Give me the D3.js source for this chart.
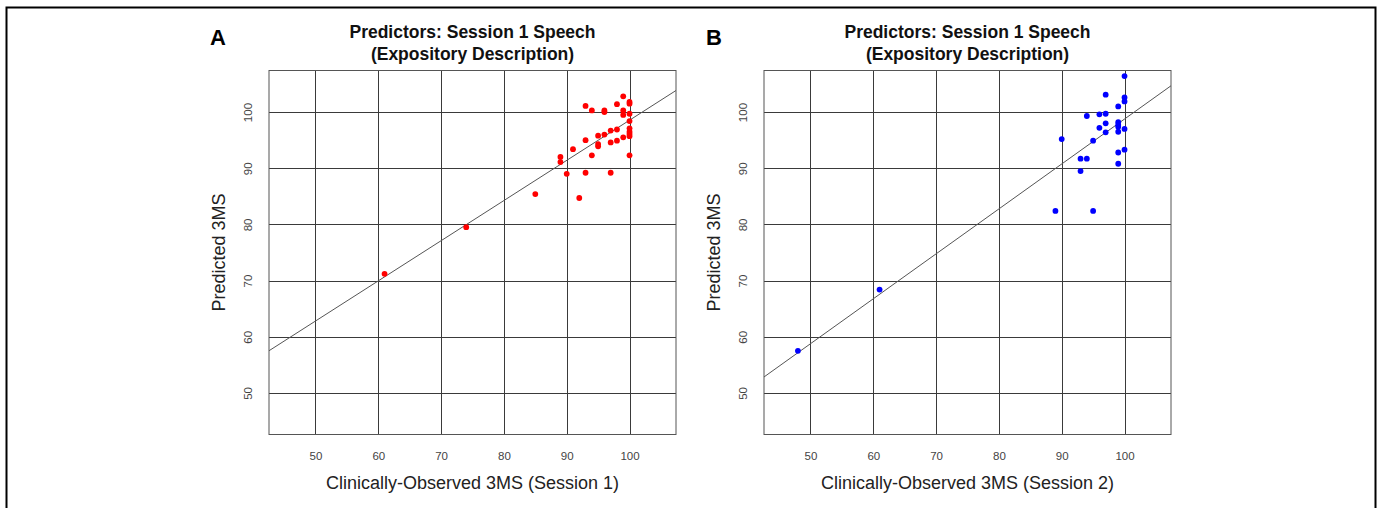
<!DOCTYPE html>
<html>
<head>
<meta charset="utf-8">
<script src="https://cdn.jsdelivr.net/npm/d3@7"></script>
<style>
  html, body { margin: 0; padding: 0; background: #fff; }
  svg { display: block; font-family: Arial, "Liberation Sans", sans-serif; }
</style>
</head>
<body>
<svg id="chart" width="1380" height="508"></svg>
<script>
// ---- Data ----
const titleLines = ["Predictors: Session 1 Speech", "(Expository Description)"];
const yAxisTitle = "Predicted 3MS";
const xTicks = [50, 60, 70, 80, 90, 100];
const yTicks = [50, 60, 70, 80, 90, 100];

// Panel A: Session 1
const aObserved = [99, 100, 100, 98, 93, 94, 96, 96, 99, 99, 100, 100, 100, 100, 100, 100,
                   98, 97, 96, 95, 95, 95, 93, 97, 98, 99, 91, 94, 89, 89, 100, 90, 93, 97,
                   85, 92, 61, 74];
const aPredicted = [102.8, 101.8, 101.5, 101.4, 101.1, 100.3, 100.3, 100.0, 100.3, 99.5, 99.7, 98.4,
                    97.1, 96.5, 96.1, 95.7, 96.9, 96.7, 96.0, 95.8, 94.3, 93.9, 95.0, 94.6, 94.9,
                    95.5, 93.4, 92.3, 92.0, 91.1, 92.3, 89.0, 89.2, 89.2, 85.4, 84.7, 71.2, 79.5];
const aFit = { intercept: 91.4, slope: 0.715, at: 90 };
const aLabel = "A";
const aXTitle = "Clinically-Observed 3MS (Session 1)";

// Panel B: Session 2
const bObserved = [100, 97, 100, 100, 99, 94, 96, 97, 96, 97, 99, 99, 99, 100, 97, 99,
                   90, 95, 93, 94, 99, 100, 93, 99, 89, 95, 48, 61];
const bPredicted = [106.4, 103.1, 102.6, 101.9, 101.0, 99.3, 99.6, 99.7, 97.2, 98.0, 98.2, 97.7,
                    97.4, 97.0, 96.4, 96.5, 95.2, 94.9, 91.7, 91.7, 92.8, 93.3, 89.5, 90.8,
                    82.4, 82.4, 57.5, 68.4];
const bFit = { intercept: 90.76, slope: 0.80, at: 90 };
const bLabel = "B";
const bXTitle = "Clinically-Observed 3MS (Session 2)";

const domain = [42.6, 107.4];

// ---- Drawing ----
const svg = d3.select("#chart");

// outer frame
svg.append("rect")
  .attr("x", 6.5).attr("y", 7.5)
  .attr("width", 1369).attr("height", 520)
  .attr("fill", "none").attr("stroke", "#000").attr("stroke-width", 2);

function panel(cfg) {
  const left = cfg.left, right = cfg.right, top = 70.5, bottom = 434.5;
  const x = d3.scaleLinear().domain(domain).range([left, right]);
  const y = d3.scaleLinear().domain(domain).range([bottom, top]);
  const g = svg.append("g");

  // gridlines
  g.selectAll(".vg").data(xTicks).join("line")
    .attr("x1", d => Math.round(x(d)) + 0.5).attr("x2", d => Math.round(x(d)) + 0.5)
    .attr("y1", top).attr("y2", bottom)
    .attr("stroke", "#3a3a3a").attr("stroke-width", 1);
  g.selectAll(".hg").data(yTicks).join("line")
    .attr("y1", d => Math.round(y(d)) + 0.5).attr("y2", d => Math.round(y(d)) + 0.5)
    .attr("x1", left).attr("x2", right)
    .attr("stroke", "#3a3a3a").attr("stroke-width", 1);

  // box
  g.append("rect")
    .attr("x", left).attr("y", top)
    .attr("width", right - left).attr("height", bottom - top)
    .attr("fill", "none").attr("stroke", "#555").attr("stroke-width", 1);

  // regression line (across the plotted range)
  const fy = v => cfg.fit.intercept + cfg.fit.slope * (v - cfg.fit.at);
  g.append("line")
    .attr("x1", x(domain[0])).attr("y1", y(fy(domain[0])))
    .attr("x2", x(domain[1])).attr("y2", y(fy(domain[1])))
    .attr("stroke", "#555").attr("stroke-width", 1);

  // points
  const pts = cfg.xs.map((v, i) => [v, cfg.ys[i]]);
  g.selectAll("circle").data(pts).join("circle")
    .attr("cx", d => x(d[0])).attr("cy", d => y(d[1]))
    .attr("r", 2.9).attr("fill", cfg.color);

  // x tick labels
  const xAxis = d3.axisBottom(x).tickValues(xTicks).tickSize(0).tickPadding(0);
  const xa = g.append("g").attr("transform", `translate(0,${bottom + 17})`).call(xAxis);
  xa.select(".domain").remove();
  xa.selectAll("text").attr("font-size", 11.5).attr("fill", "#444")
    .attr("font-family", "Arial, 'Liberation Sans', sans-serif").attr("dy", "0.71em");

  // y tick labels (rotated, parallel to axis)
  const yAxis = d3.axisLeft(y).tickValues(yTicks).tickSize(0).tickPadding(0);
  const ya = g.append("g").attr("transform", `translate(${left - 21},0)`).call(yAxis);
  ya.select(".domain").remove();
  ya.selectAll("text")
    .attr("font-size", 11.5).attr("fill", "#444")
    .attr("font-family", "Arial, 'Liberation Sans', sans-serif")
    .attr("x", 0).attr("dy", 0)
    .attr("text-anchor", "middle")
    .attr("transform", "rotate(-90)")
    .attr("dominant-baseline", "central");

  // axis titles
  g.append("text")
    .attr("x", (left + right) / 2).attr("y", 489)
    .attr("text-anchor", "middle").attr("font-size", 18).attr("fill", "#222")
    .text(cfg.xTitle);
  g.append("text")
    .attr("transform", `translate(${left - 44},${(top + bottom) / 2}) rotate(-90)`)
    .attr("text-anchor", "middle").attr("font-size", 18).attr("fill", "#222")
    .text(yAxisTitle);

  // title
  titleLines.forEach((t, i) => {
    g.append("text")
      .attr("x", (left + right) / 2).attr("y", 37.5 + i * 22.5)
      .attr("text-anchor", "middle").attr("font-size", 17.5).attr("font-weight", "bold")
      .attr("fill", "#111").text(t);
  });

  // panel label
  g.append("text")
    .attr("x", cfg.labelX).attr("y", 44.5)
    .attr("font-size", 22).attr("font-weight", "bold").attr("fill", "#000")
    .text(cfg.label);
}

panel({ left: 269, right: 676, xs: aObserved, ys: aPredicted, fit: aFit, color: "#ff0000",
        label: aLabel, labelX: 210, xTitle: aXTitle });
panel({ left: 764, right: 1171, xs: bObserved, ys: bPredicted, fit: bFit, color: "#0000ff",
        label: bLabel, labelX: 706, xTitle: bXTitle });
</script>
</body>
</html>
